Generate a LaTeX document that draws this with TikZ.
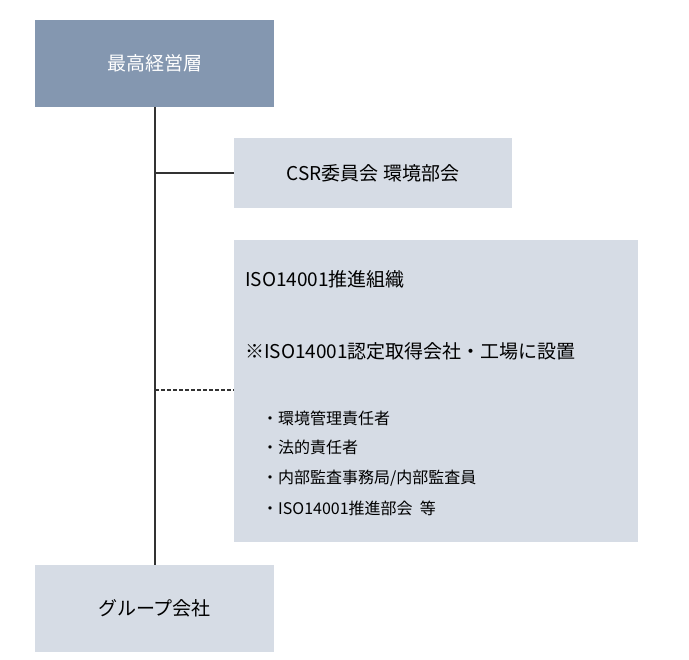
\documentclass[tikz,border=0pt]{standalone}
\usepackage{fontspec}
\newfontfamily\cjk{Noto Sans CJK JP}
\definecolor{dark}{HTML}{8497B0}
\definecolor{light}{HTML}{D6DCE5}
\begin{document}
\begin{tikzpicture}[x=1pt,y=-1pt,font=\cjk,
  big/.style={font=\cjk\fontsize{19}{22}\selectfont},
  small/.style={font=\cjk\fontsize{16}{19}\selectfont},
  txt/.style={anchor=west,inner sep=0pt,text=black}]
\useasboundingbox (0,0) rectangle (689,660);
\fill[dark] (35,20) rectangle (274,107);
\node[text=white,big] (top) at (154.5,63.5) {最高経営層};
\fill[light] (234,138) rectangle (512,208);
\node[big] (csr) at (373,173) {CSR委員会 環境部会};
\fill[light] (234,240) rectangle (638,542);
\node[txt,big] (iso) at (245,279) {ISO14001推進組織};
\node[txt,big] (note) at (245,351) {※ISO14001認定取得会社・工場に設置};
\node[txt,small] (l1) at (262,418) {・環境管理責任者};
\node[txt,small] (l2) at (262,447) {・法的責任者};
\node[txt,small] (l3) at (262,478) {・内部監査事務局/内部監査員};
\node[txt,small] (l4) at (262,508) {・ISO14001推進部会\ \ 等};
\fill[light] (35,565) rectangle (274,652);
\node[big] (grp) at (154.5,608.5) {グループ会社};
\coordinate (a) at (155,107);
\coordinate (b) at (155,565);
\coordinate (c1) at (155,173);
\coordinate (c2) at (234,173);
\coordinate (d1) at (155,390);
\coordinate (d2) at (234,390);
\draw[line width=1.3pt,black!80] (a) -- (b);
\draw[line width=1.3pt,black!80] (c1) -- (c2);
\draw[line width=1.3pt,black!80,dash pattern=on 4pt off 2pt] (d1) -- (d2);
\end{tikzpicture}
\end{document}
